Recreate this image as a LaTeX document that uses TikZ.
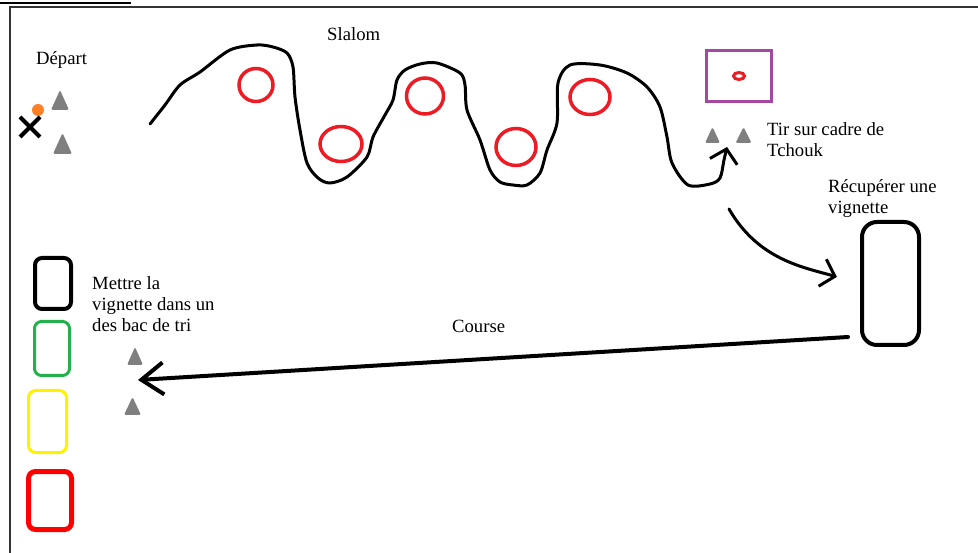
\documentclass[tikz,border=0pt]{standalone}
\usepackage{fontspec}
\setmainfont{Liberation Serif}
\usetikzlibrary{arrows.meta,shapes.geometric,shapes.misc}
\definecolor{coneGray}{RGB}{127,127,127}
\definecolor{gateRed}{RGB}{237,28,36}
\definecolor{binGreen}{RGB}{34,177,76}
\definecolor{binYellow}{RGB}{255,242,0}
\definecolor{binRed}{RGB}{255,0,0}
\definecolor{cadrePurple}{RGB}{163,73,164}
\definecolor{ballOrange}{RGB}{255,127,39}
\begin{document}
\begin{tikzpicture}[x=1pt,y=-1pt,
   font=\fontsize{18.67}{21}\selectfont,
   every node/.style={inner sep=0pt},
   txt/.style={anchor=base west,align=left},
   cone/.style={fill=coneGray,rounded corners=1.5pt},
   gate/.style={ellipse,draw=gateRed,line width=3.5pt},
   bin/.style={draw,rounded corners=7pt,line width=3pt},
   fleche/.style={-{Straight Barb[length=13pt,width=28pt]},line width=3pt,line cap=round,line join=round}]
\useasboundingbox (0,0) rectangle (978,553);
\draw[line width=2.2pt,black!80] (10,553) -- (10,7) -- (978,7);
\draw[line width=2.5pt] (0,3) -- (131,3);
\node[txt] (depart) at (36,65) {Départ};
\node[txt] (slalom) at (327,41) {Slalom};
\node[txt] (tir) at (767,157) {Tir sur cadre de\\Tchouk};
\node[txt] (recup) at (828,214) {Récupérer une\\vignette};
\node[txt] (mettre) at (92,332) {Mettre la\\vignette dans un\\des bac de tri};
\node[txt] (course) at (452,333) {Course};
\node[circle,fill=ballOrange,minimum size=12pt] (ballon) at (38,110) {};
\node[cross out,draw,line width=4pt,minimum size=16pt] (croix) at (30,127) {};
\foreach \x/\y/\w/\h in {60/100/18/20, 62.5/143.5/19/21, 712.5/135/15/16, 743.5/135/16/16, 135/356/16/18, 132.5/406/17/18}
  \fill[cone] (\x-\w/2,\y+\h/2) -- (\x,\y-\h/2) -- (\x+\w/2,\y+\h/2) -- cycle;
\node[gate,minimum width=34pt,minimum height=33pt] (g1) at (256,85) {};
\node[gate,minimum width=42pt,minimum height=35pt] (g2) at (341,144) {};
\node[gate,minimum width=37pt,minimum height=36pt] (g3) at (425,96) {};
\node[gate,minimum width=40pt,minimum height=37pt] (g4) at (516,147) {};
\node[gate,minimum width=40pt,minimum height=35pt] (g5) at (590,97) {};
\node[draw=cadrePurple,line width=3pt,minimum width=65pt,minimum height=51pt] (cadre) at (739,76) {};
\node[ellipse,draw=gateRed,line width=3pt,minimum width=11pt,minimum height=7pt] (cible) at (cadre) {};
\node[draw,rounded corners=15pt,line width=4pt,minimum width=57pt,minimum height=123pt] (vbox) at (890.5,283.5) {};
\node[bin,line width=4pt,minimum width=36pt,minimum height=51pt] (bacNoir) at (53,283.5) {};
\node[bin,draw=binGreen,minimum width=35pt,minimum height=54pt] (bacVert) at (52,348.5) {};
\node[bin,draw=binYellow,minimum width=38pt,minimum height=62pt] (bacJaune) at (47.5,421.5) {};
\node[bin,draw=binRed,line width=5pt,minimum width=43pt,minimum height=58pt] (bacRouge) at (50,500.5) {};
\coordinate (s0) at (150,124);
\coordinate (tir0) at (727,147);
\coordinate (pick) at (729,209);
\coordinate (arrivee) at (138,380);
\draw[fleche] plot[smooth,tension=0.5] coordinates {(s0) (165,105) (180,85) (200,72) (230,50)
  (257,45) (273,47) (287,53) (293,67) (295,97) (300,130) (307,163) (318,178) (330,183)
  (347,177) (367,157) (373,137) (385,115) (393,100) (397,80) (405,70) (420,64) (437,63)
  (460,73) (465,85) (467,110) (480,140) (490,170) (500,182) (513,185) (527,185) (540,173)
  (547,150) (557,123) (558,83) (570,65) (600,65) (627,73) (647,87) (660,107) (667,137)
  (672,163) (688,185) (710,184) (720,178) (724,160) (tir0)};
\draw[fleche,shorten >=24pt] (pick) to[out=-60,in=164] (vbox.west);
\draw[fleche,line width=4pt,-{Straight Barb[length=22pt,width=32pt]}] ([shift={(-12,53.5)}]vbox.west) -- (arrivee);
\end{tikzpicture}
\end{document}
